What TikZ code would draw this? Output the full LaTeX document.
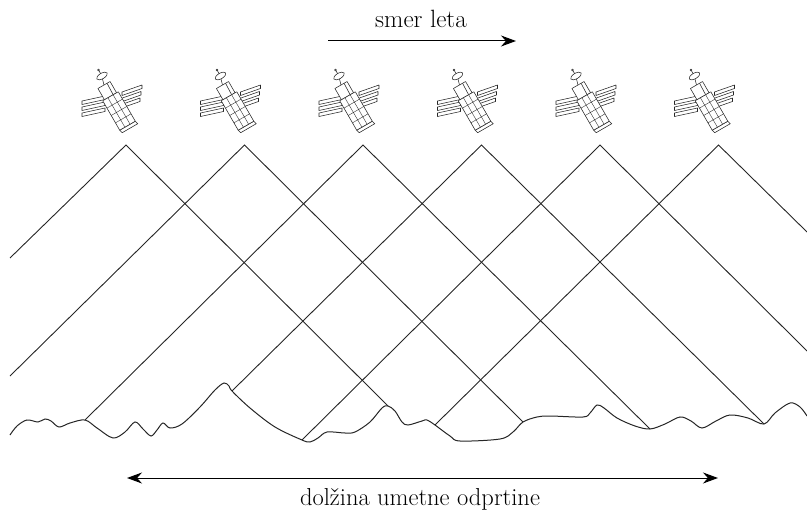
\documentclass[tikz,border=0pt]{standalone}
\usepackage{fontspec}
\usetikzlibrary{arrows.meta}

\tikzset{
  satline/.style={line width=0.55pt, black!85, fill=white, line join=round},
  mesh/.style={line width=0.9pt, black!85},
  terrain/.style={line width=1pt, black!85},
  flow/.style={line width=1pt, black},
  label/.style={inner sep=0pt, anchor=base},
  % line-art satellite, origin at the middle of the craft
  sat/.pic={
    % left solar wing: three strips
    \foreach \i in {0,1,2} {
      \draw[satline] (-29,{-1+6*\i}) -- (-6,{-6+6*\i}) -- (-6,{-2.5+6*\i}) -- (-29,{2.5+6*\i}) -- cycle;
    }
    % right solar wing: three strips
    \foreach \i in {0,1,2} {
      \draw[satline] ({11-\i},{-10+6.5*\i}) -- ({31-\i},{-17+6.5*\i}) -- ({31-\i},{-13.5+6.5*\i}) -- ({11-\i},{-6.5+6.5*\i}) -- cycle;
    }
    % antenna mast and dish
    \draw[satline] (-7,-17) -- (-9,-25);
    \draw[satline] (-9,-26) -- (-12.5,-32);
    \draw[satline] (-12.5,-32) circle [radius=1pt];
    \draw[satline, rotate around={30:(-9,-26)}] (-9,-26) ellipse [x radius=6pt, y radius=2.8pt];
    % upper module
    \draw[satline] (-0.94,-20.5) -- (5.56,-9.24) -- (-6.56,-2.24) -- (-13.06,-13.5) -- cycle;
    \draw[satline] (-4,-18.8) -- (2,-7.5);
    % lower module with bottom face
    \draw[satline] (8.71,28.2) -- (11.2,30.7) -- (26.8,21.7) -- (24.29,19.2) -- cycle;
    \draw[satline] (7.29,-10.24) -- (24.29,19.2) -- (8.71,28.2) -- (-8.29,-1.24) -- cycle;
    % panel grid on the lower module
    \draw[line width=0.4pt, black!80] (11.54,-2.88) -- (-4.04,6.12)
      (15.79,4.48) -- (0.21,13.48)
      (20.04,11.84) -- (4.46,20.84)
      (2.1,-7.24) -- (19.1,22.2)
      (-3.1,-4.24) -- (13.9,25.2);
  }
}

\begin{document}
\begin{tikzpicture}[x=1pt, y=-1pt]
  \useasboundingbox (0,0) rectangle (807,516);

  % satellite positions (beam apexes)
  \foreach \n/\px in {1/126, 2/244.5, 3/363, 4/481.5, 5/600, 6/718.5} {
    \coordinate (s\n) at (\px,145);
    \pic (craft\n) at ({\px-15},102) {sat};
  }

  % ground contact points of the beams
  \coordinate (l1) at (10,258);
  \coordinate (l2) at (10,376);
  \coordinate (l3) at (85,420);
  \coordinate (l4) at (232,391);
  \coordinate (l5) at (302,440);
  \coordinate (l6) at (435,425);
  \coordinate (r1) at (388,406);
  \coordinate (r2) at (523,422);
  \coordinate (r3) at (650,429);
  \coordinate (r4) at (764,424);
  \coordinate (r5) at (807,351);
  \coordinate (r6) at (807,232);

  % beams
  \foreach \n in {1,...,6} {
    \draw[mesh] (l\n) -- (s\n) -- (r\n);
  }

  % terrain profile
  \draw[terrain] plot[smooth, tension=0.55] coordinates {
    (10,435) (17,426) (27,420) (38,422) (45,419) (51,421) (59,427) (70,423)
    (85,420) (97,428) (113,438) (125,432) (135,422) (143,429) (151,436)
    (157,430) (163,423) (170,428) (182,424) (200,407) (215,390) (224,383)
    (229,386) (232,391) (250,408) (275,427) (302,440) (310,442) (318,438)
    (327,432) (345,433) (355,432) (370,422) (382,408) (388,406) (395,411)
    (402,422) (408,425) (422,421) (427,420) (435,425) (450,436) (460,441)
    (500,439) (513,432) (523,422) (537,417) (550,416) (583,417) (590,413)
    (597,405) (604,408) (617,418) (635,426) (650,429) (665,424) (680,417)
    (691,421) (702,428) (716,421) (730,415) (748,418) (764,424) (775,413)
    (790,403) (800,407) (807,416)};

  % flight direction
  \coordinate (f1) at (328,41);
  \coordinate (f2) at (516,41);
  \draw[flow, -{Stealth[length=15pt, width=11pt]}] (f1) -- (f2);
  \node[label, font=\fontsize{25}{30}\selectfont] (flight) at (421,28) {smer leta};

  % synthetic aperture length
  \coordinate (a1) at (127,478);
  \coordinate (a2) at (718,478);
  \draw[flow, {Stealth[length=15pt, width=11pt]}-{Stealth[length=15pt, width=11pt]}] (a1) -- (a2);
  \node[label, font=\fontsize{24.5}{29}\selectfont] (aperture) at (420,505) {dolžina umetne odprtine};
\end{tikzpicture}
\end{document}
